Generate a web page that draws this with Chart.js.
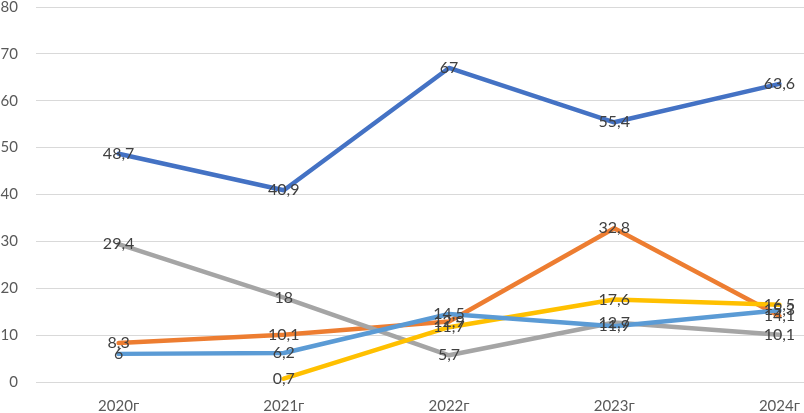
<!DOCTYPE html>
<html>
<head>
<meta charset="utf-8">
<script src="https://cdn.jsdelivr.net/npm/chart.js@4/dist/chart.umd.min.js"></script>
<style>
  html, body { margin:0; padding:0; background:#fff; overflow:hidden; }
  #wrap { width:862px; height:433px; margin-top:-20px; }
</style>
</head>
<body>
<div id="wrap"><canvas id="c" width="862" height="433"></canvas></div>
<script>
// years on the x axis
var years = ["2020г","2021г","2022г","2023г","2024г"];
var yTicks = [0,10,20,30,40,50,60,70,80];

// five series, same order as the original workbook
var s1 = [48.7, 40.9, 67, 55.4, 63.6];
var s2 = [8.3, 10.1, 12.9, 32.8, 14.1];
var s3 = [29.4, 18, 5.7, 12.7, 10.1];
var s4 = [null, 0.7, 11.7, 17.6, 16.5];
var s5 = [6, 6.2, 14.5, 11.9, 15.3];

var colors = ["#4472C4","#ED7D31","#A5A5A5","#FFC000","#5B9BD5"];
var series = [s1, s2, s3, s4, s5];

// point labels drawn centred on each point, comma decimals
var pointLabels = {
  id: 'pointLabels',
  afterDatasetsDraw: function(chart){
    var ctx = chart.ctx;
    ctx.save();
    ctx.font = "16px Lato";
    ctx.fillStyle = "#404040";
    ctx.textAlign = "center";
    ctx.textBaseline = "middle";
    for (var i=0; i<chart.data.datasets.length; i++){
      var meta = chart.getDatasetMeta(i);
      var d = chart.data.datasets[i].data;
      for (var j=0; j<d.length; j++){
        if (d[j] === null) continue;
        var p = meta.data[j];
        ctx.fillText(String(d[j]).replace(".", ","), p.x, p.y);
      }
    }
    ctx.restore();
  }
};

var sets = [];
for (var i=0; i<series.length; i++){
  sets.push({
    data: series[i],
    borderColor: colors[i],
    backgroundColor: colors[i],
    borderWidth: 4.5,
    borderCapStyle: 'round',
    borderJoinStyle: 'round',
    pointRadius: 0,
    tension: 0,
    spanGaps: false,
    order: series.length - i   // later series on top
  });
}

new Chart(document.getElementById('c'), {
  type: 'line',
  data: { labels: years, datasets: sets },
  plugins: [pointLabels],
  options: {
    responsive: false,
    animation: false,
    layout: { padding: { top: 6, left: 0, right: 0, bottom: 0 } },
    plugins: { legend: { display: false }, tooltip: { enabled: false } },
    scales: {
      x: {
        offset: true,
        grid: { display: false, drawTicks: false },
        border: { display: false },
        ticks: { color: "#595959", font: { family: "Lato", size: 15 }, padding: 15 },
        afterFit: function(s){ s.height = 31; }
      },
      y: {
        min: 0, max: 80,
        afterBuildTicks: function(s){ s.ticks = yTicks.map(function(v){ return {value:v}; }); },
        grid: { color: "#D9D9D9", lineWidth: 1, drawTicks: false },
        border: { display: false },
        ticks: { color: "#595959", font: { family: "Lato", size: 15 }, padding: 18 },
        afterFit: function(s){ s.width = 36; }
      }
    }
  }
});
</script>
</body>
</html>
